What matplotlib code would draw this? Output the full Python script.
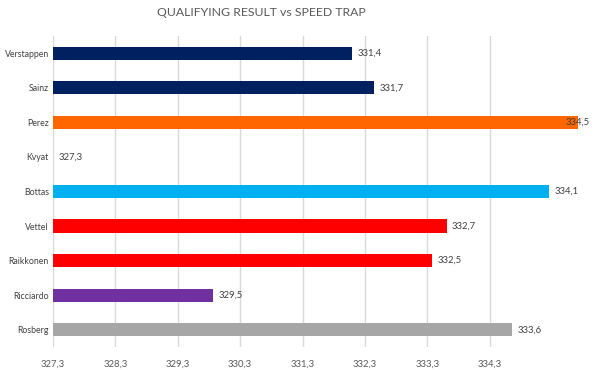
import matplotlib
matplotlib.use("Agg")
import matplotlib.pyplot as plt
import numpy as np

drivers = ["Verstappen", "Sainz", "Perez", "Kvyat", "Bottas", "Vettel",
           "Raikkonen", "Ricciardo", "Rosberg"]
speeds = [331.4, 331.7, 334.5, 327.3, 334.1, 332.7, 332.5, 329.5, 333.6]
colors = ["#002060", "#002060", "#ff6600", "#002060", "#00b0f0", "#ff0000",
          "#ff0000", "#7030a0", "#a6a6a6"]
tick_labels = ["327,3", "328,3", "329,3", "330,3", "331,3", "332,3", "333,3", "334,3"]

base = 327.3
tick_step = 0.856  # axis tick spacing as drawn in the reference

plt.rcParams['font.family'] = ['Lato', 'DejaVu Sans']

fig = plt.figure(figsize=(6, 3.7), dpi=100)
ax = fig.add_axes([0.0883, 0.062, 0.9037, 0.841])

y = np.arange(len(drivers))
widths = [s - base for s in speeds]
ax.barh(y, widths, left=base, height=0.38, color=colors, zorder=3)

ticks = [base + i * tick_step for i in range(len(tick_labels))]
ax.set_xticks(ticks)
ax.set_xticklabels(tick_labels, fontsize=6.8, color="#595959")
ax.set_xlim(base, 334.74)
ax.set_ylim(len(drivers) - 0.5, -0.5)
ax.set_yticks(y)
ax.set_yticklabels(drivers, fontsize=6.3, color="#404040")
ax.tick_params(axis='both', length=0)
ax.tick_params(axis='x', pad=9)
ax.tick_params(axis='y', pad=3)
ax.grid(axis='x', color="#d9d9d9", linewidth=1, zorder=0)
for s in ax.spines.values():
    s.set_visible(False)

fig.canvas.draw()
renderer = fig.canvas.get_renderer()
fig_w = fig.bbox.width
for yi, s in zip(y, speeds):
    t = ax.annotate(f"{s:.1f}".replace(".", ","), xy=(s, yi), xytext=(4, 0),
                    textcoords="offset points", va="center", ha="left",
                    fontsize=6.8, color="#404040", zorder=4,
                    annotation_clip=False)
    bb = t.get_window_extent(renderer)
    if bb.x1 > fig_w - 10:
        shift = bb.x1 - (fig_w - 10)
        t.set_position((4 - shift * 72 / fig.dpi, 0))

fig.text(0.435, 0.965, "QUALIFYING RESULT vs SPEED TRAP", fontsize=8.8,
         color="#595959", ha="center", va="center")
fig.savefig("out.png", dpi=100)
